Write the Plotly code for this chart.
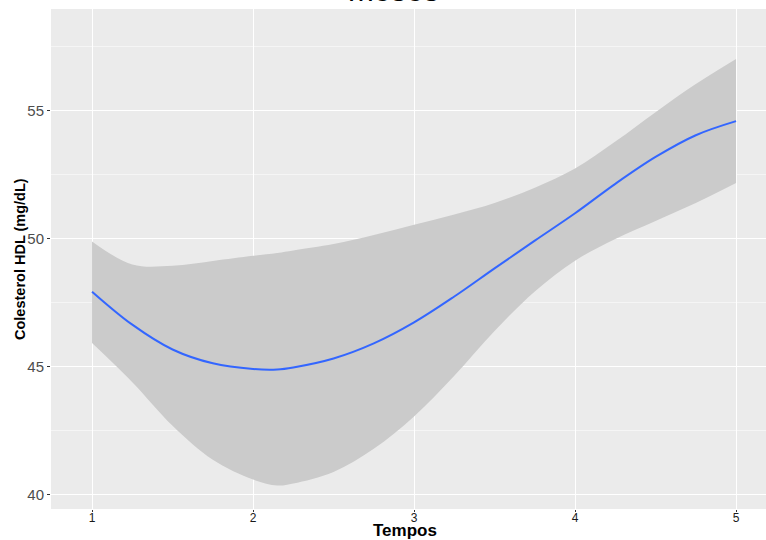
import plotly.graph_objects as go

# Data (loess fit with confidence band)
tempos = [1, 1.25, 1.5, 1.75, 2, 2.15, 2.25, 2.5, 2.75, 3, 3.25, 3.5, 3.75, 4, 4.25, 4.5, 4.75, 5]
fit    = [47.94, 46.65, 45.68, 45.14, 44.92, 44.9, 44.98, 45.33, 45.92, 46.74, 47.75, 48.85, 49.93, 51.0, 52.15, 53.2, 54.05, 54.6]
upper  = [49.9, 49.0, 48.95, 49.14, 49.34, 49.45, 49.55, 49.8, 50.15, 50.55, 50.95, 51.4, 52.0, 52.75, 53.8, 54.95, 56.05, 57.03]
lower  = [45.93, 44.4, 42.7, 41.37, 40.6, 40.37, 40.45, 40.9, 41.8, 43.06, 44.65, 46.4, 47.95, 49.15, 50.0, 50.7, 51.4, 52.18]

x_ticks = [1, 2, 3, 4, 5]
y_ticks = [40, 45, 50, 55]
y_minor = [42.5, 47.5, 52.5, 57.5]

title_text = "meses"
x_title = "Tempos"
y_title = "Colesterol HDL (mg/dL)"

fig = go.Figure()
fig.add_trace(go.Scatter(x=tempos, y=lower, mode="lines",
                         line=dict(width=0, color="rgba(0,0,0,0)", shape="spline", smoothing=1),
                         hoverinfo="skip", showlegend=False))
fig.add_trace(go.Scatter(x=tempos, y=upper, mode="lines", fill="tonexty", fillcolor="#cbcbcb",
                         line=dict(width=0, color="rgba(0,0,0,0)", shape="spline", smoothing=1),
                         hoverinfo="skip", showlegend=False))
fig.add_trace(go.Scatter(x=tempos, y=fit, mode="lines",
                         line=dict(color="#3366FF", width=2, shape="spline", smoothing=1),
                         showlegend=False))

fig.update_layout(
    width=766, height=540,
    margin=dict(l=51, r=0, t=9, b=31),
    paper_bgcolor="white", plot_bgcolor="#EBEBEB",
    font=dict(family="Liberation Sans, Arial, sans-serif"),
    xaxis=dict(range=[0.745, 5.186], tickmode="array", tickvals=x_ticks,
               ticktext=[str(v) for v in x_ticks],
               showgrid=True, gridcolor="white", gridwidth=1.2, zeroline=False,
               ticks="outside", ticklen=2, tickcolor="#333333", tickwidth=1,
               ticklabelstandoff=-4,
               tickfont=dict(size=12, color="#1a1a1a"), showline=False),
    yaxis=dict(range=[39.45, 58.98], tickmode="array", tickvals=y_ticks,
               ticktext=[str(v) for v in y_ticks],
               showgrid=True, gridcolor="white", gridwidth=1.2, zeroline=False,
               ticks="outside", ticklen=3, tickcolor="#333333", tickwidth=1,
               tickfont=dict(size=15, color="#4D4D4D"), showline=False,
               minor=dict(tickvals=y_minor, showgrid=True, gridcolor="#F5F5F5", gridwidth=0.8, ticks="")),
)

fig.add_annotation(text="<b>" + x_title + "</b>", xref="paper", yref="paper", x=0.5, y=0, yanchor="top",
                   yshift=-10, xshift=-4, showarrow=False,
                   font=dict(size=17, color="black"))
fig.add_annotation(text="<b>" + y_title + "</b>", xref="paper", yref="paper", x=0, y=0.5,
                   xanchor="center", yanchor="middle", xshift=-31, textangle=-90, showarrow=False,
                   font=dict(size=14.5, color="black"))
fig.add_annotation(text=title_text, xref="paper", yref="paper", x=0.5, y=1, yanchor="bottom",
                   xshift=-15, yshift=-1, showarrow=False,
                   font=dict(size=31, color="black"))

fig.write_html("out.html")
